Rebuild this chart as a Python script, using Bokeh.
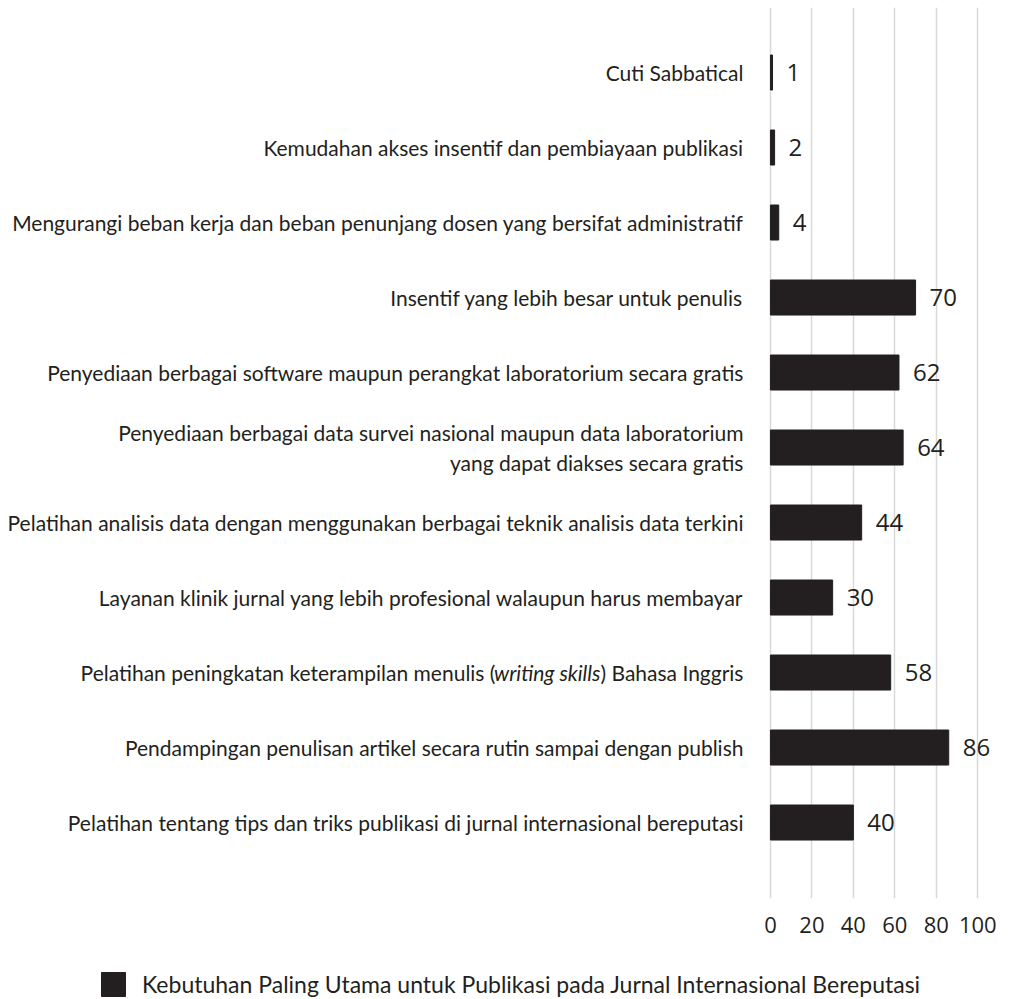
from bokeh.plotting import figure
from bokeh.layouts import column
from bokeh.models import Range1d, FixedTicker, Legend, LegendItem
from bokeh.core.properties import value
from bokeh.embed import file_html
from bokeh.resources import INLINE

# ---- data ----
categories = [
    "Cuti Sabbatical",
    "Kemudahan akses insentif dan pembiayaan publikasi",
    "Mengurangi beban kerja dan beban penunjang dosen yang bersifat administratif",
    "Insentif yang lebih besar untuk penulis",
    "Penyediaan berbagai software maupun perangkat laboratorium secara gratis",
    "Penyediaan berbagai data survei nasional maupun data laboratorium\nyang dapat diakses secara gratis",
    "Pelatihan analisis data dengan menggunakan berbagai teknik analisis data terkini",
    "Layanan klinik jurnal yang lebih profesional walaupun harus membayar",
    "Pelatihan peningkatan keterampilan menulis (writing skills) Bahasa Inggris",
    "Pendampingan penulisan artikel secara rutin sampai dengan publish",
    "Pelatihan tentang tips dan triks publikasi di jurnal internasional bereputasi",
]
values = [1, 2, 4, 70, 62, 64, 44, 30, 58, 86, 40]
x_ticks = [0, 20, 40, 60, 80, 100]
series_name = "Kebutuhan Paling Utama untuk Publikasi pada Jurnal Internasional Bereputasi"
italic_phrase = "writing skills"

# ---- style ----
INK = "#231f20"
LABEL_FONT = "Lato"
NUM_FONT = "Open Sans"
LABEL_SIZE = "21px"

pos = list(range(len(categories)))

p = figure(frame_width=1021, frame_height=891, output_backend="svg",
           toolbar_location=None, x_range=Range1d(-371.4, 121.1),
           y_range=Range1d(11.013, -0.867), min_border=0, min_border_top=7,
           min_border_bottom=46, y_axis_location=None)
p.outline_line_color = None
p.background_fill_color = "white"
p.border_fill_color = "white"

ticker = FixedTicker(ticks=x_ticks)
p.xaxis.ticker = ticker
p.xgrid.ticker = ticker
p.xgrid.grid_line_color = "#d9d9d9"
p.xgrid.grid_line_width = 1.5
p.ygrid.grid_line_color = None
p.xaxis.axis_line_color = None
p.xaxis.major_tick_line_color = None
p.xaxis.minor_tick_line_color = None
p.xaxis.major_label_standoff = 12
p.xaxis.major_label_text_font = NUM_FONT
p.xaxis.major_label_text_font_size = "22px"
p.xaxis.major_label_text_color = INK

bars = p.hbar(y=pos, left=0, right=values, height=0.467, color=INK)

# value labels
p.text(x=values, y=pos, text=[str(v) for v in values], x_offset=14,
       text_align="left", text_baseline="middle", text_font=value(NUM_FONT),
       text_font_size="24px", text_color=INK)

# category labels
plain_idx = [i for i, c in enumerate(categories) if italic_phrase not in c]
p.text(x=[0] * len(plain_idx), y=[pos[i] for i in plain_idx],
       text=[categories[i] for i in plain_idx], x_offset=-27,
       text_align="right", text_baseline="middle", text_font=value(LABEL_FONT),
       text_font_size=LABEL_SIZE, text_color=INK, text_line_height=1.22)

# label with an italic phrase, drawn in three pieces
POST_W = 143
ITAL_W = 105
for i, c in enumerate(categories):
    if italic_phrase in c:
        pre, post = c.split(italic_phrase)
        pieces = [(post, -27, "normal"),
                  (italic_phrase, -27 - POST_W, "italic"),
                  (pre, -27 - POST_W - ITAL_W, "normal")]
        for txt, off, style in pieces:
            p.text(x=[0], y=[pos[i]], text=[txt], x_offset=off,
                   text_align="right", text_baseline="middle",
                   text_font=value(LABEL_FONT), text_font_size=LABEL_SIZE,
                   text_font_style=style, text_color=INK)

# legend strip
lg = figure(width=1021, height=55, output_backend="svg", toolbar_location=None,
            min_border=0, x_axis_location=None, y_axis_location=None,
            x_range=Range1d(0, 1), y_range=Range1d(0, 1))
lg.outline_line_color = None
lg.grid.grid_line_color = None
swatch = lg.hbar(y=[5], left=[5], right=[6], height=0.5, color=INK)
legend = Legend(items=[LegendItem(label=series_name, renderers=[swatch])],
                location=(98, 0), orientation="horizontal",
                glyph_width=30, glyph_height=30, label_standoff=14,
                label_text_font=LABEL_FONT, label_text_font_size="23px",
                label_text_color=INK, border_line_color=None,
                background_fill_alpha=0, margin=0, padding=0)
lg.add_layout(legend)

open("out.html", "w").write(file_html(column(p, lg, spacing=0), INLINE))
